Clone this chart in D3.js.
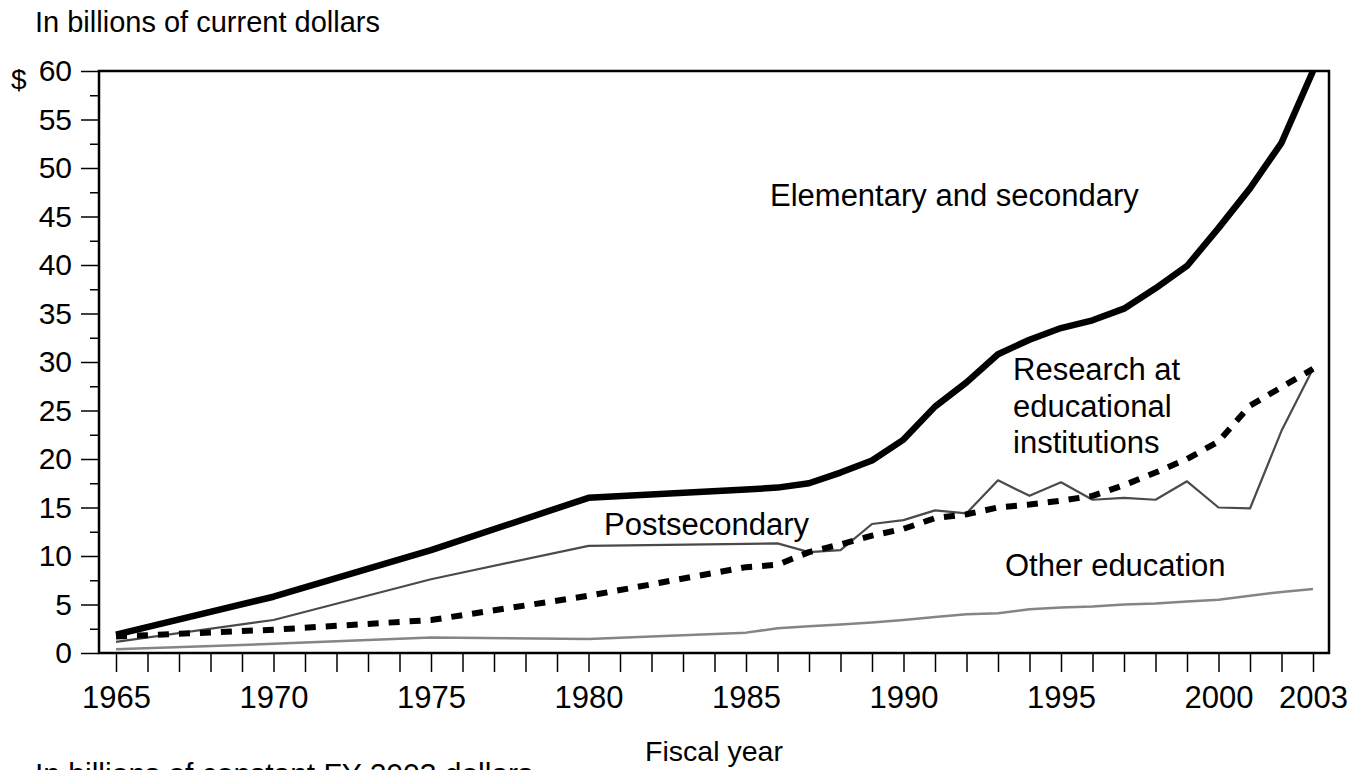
<!DOCTYPE html>
<html>
<head>
<meta charset="utf-8">
<script src="https://cdn.jsdelivr.net/npm/d3@7"></script>
<style>
    body { margin: 0; background: #fff; }
    svg { display: block; font-family: "Liberation Sans", Arial, sans-serif; }
</style>
</head>
<body>
<div id="chart"></div>
<script>

// Chart data
// --------------------------------------------------------------------------------------------

// Fiscal years (5 year steps until 1985, then yearly)
const years = [1965, 1970, 1975, 1980, 1985, 1986, 1987, 1988, 1989, 1990, 1991, 1992,
               1993, 1994, 1995, 1996, 1997, 1998, 1999, 2000, 2001, 2002, 2003]

// Billions of current dollars
const elementary    = [1.9, 5.8, 10.6, 16.0, 16.85, 17.05, 17.5, 18.6, 19.85, 22.0, 25.4, 27.9,
                       30.8, 32.3, 33.5, 34.3, 35.5, 37.6, 39.9, 43.8, 47.9, 52.6, 60.0]
const postsecondary = [1.15, 3.4, 7.6, 11.05, 11.25, 11.3, 10.4, 10.6, 13.3, 13.7, 14.7, 14.4,
                       17.8, 16.2, 17.6, 15.8, 16.0, 15.8, 17.7, 15.0, 14.9, 22.9, 29.3]
const research      = [1.7, 2.4, 3.4, 5.9, 8.85, 9.1, 10.4, 11.2, 12.1, 12.8, 13.9, 14.3,
                       15.0, 15.3, 15.7, 16.2, 17.3, 18.6, 20.0, 21.8, 25.5, 27.4, 29.3]
const otherEd       = [0.38, 0.95, 1.6, 1.45, 2.1, 2.55, 2.75, 2.95, 3.15, 3.4, 3.7, 4.0,
                       4.1, 4.5, 4.7, 4.8, 5.0, 5.1, 5.3, 5.5, 5.9, 6.3, 6.6]

// Axis ticks
const yearTicks  = d3.range(1965, 2004)
const yearLabels = [1965, 1970, 1975, 1980, 1985, 1990, 1995, 2000, 2003]
const yMajor     = d3.range(0, 61, 5)
const yMinor     = d3.range(2.5, 60, 5)


function drawChart(container) {

    // Set up svg and scales
    // -------------------------------------------------------------------------
    const width = 1354, height = 770
    const box = {left: 99, right: 1329, top: 71, bottom: 653}

    let svg = d3.select(container).append("svg")
        .attr("width", width)
        .attr("height", height)

    let x = d3.scaleLinear()
        .domain([1965, 2003])
        .range([box.left + 17, box.right - 16])

    let y = d3.scaleLinear()
        .domain([0, 60])
        .range([box.bottom, box.top])

    // Axes
    // -------------------------------------------------------------------------

    // Minor ticks on y
    svg.append("g")
        .attr("transform", "translate(" + box.left + ",0)")
        .call(d3.axisLeft(y).tickValues(yMinor).tickSize(9).tickFormat(""))
        .call(g => g.select(".domain").remove())
        .selectAll("line").attr("stroke", "#000").attr("stroke-width", 1.5)

    // Major ticks and labels on y
    let yAxis = svg.append("g")
        .attr("transform", "translate(" + box.left + ",0)")
        .call(d3.axisLeft(y).tickValues(yMajor).tickSize(18).tickPadding(9).tickFormat(d3.format("d")))
    yAxis.select(".domain").remove()
    yAxis.selectAll("line").attr("stroke", "#000").attr("stroke-width", 1.5)
    yAxis.selectAll("text")
        .attr("font-family", "Liberation Sans, Arial, sans-serif")
        .attr("font-size", 30)
        .attr("fill", "#000")

    // Year ticks on x, labels only on selected years
    let xAxis = svg.append("g")
        .attr("transform", "translate(0," + box.bottom + ")")
        .call(d3.axisBottom(x).tickValues(yearTicks).tickSize(19).tickPadding(14)
            .tickFormat(d => yearLabels.includes(d) ? d : ""))
    xAxis.select(".domain").remove()
    xAxis.selectAll("line").attr("stroke", "#000").attr("stroke-width", 1.5)
    xAxis.selectAll("text")
        .attr("font-family", "Liberation Sans, Arial, sans-serif")
        .attr("font-size", 31)
        .attr("fill", "#000")

    // Frame around the plot
    svg.append("rect")
        .attr("x", box.left)
        .attr("y", box.top)
        .attr("width", box.right - box.left)
        .attr("height", box.bottom - box.top)
        .style("fill", "none")
        .style("stroke", "#000")
        .style("stroke-width", 2.5)

    // Series lines
    // -------------------------------------------------------------------------
    let line = d3.line()
        .x(d => x(d[0]))
        .y(d => y(d[1]))

    const series = [
        {values: otherEd,       colour: "#858585", width: 2.5, dash: null},
        {values: postsecondary, colour: "#4a4a4a", width: 2.2, dash: null},
        {values: research,      colour: "#000",    width: 6,   dash: "11,10"},
        {values: elementary,    colour: "#000",    width: 6.5, dash: null}
    ]

    let gLines = svg.append("g").attr("id", "lines")
    gLines.selectAll("path")
        .data(series)
        .join("path")
            .attr("d", s => line(years.map((yr, i) => [yr, s.values[i]])))
            .style("fill", "none")
            .style("stroke", s => s.colour)
            .style("stroke-width", s => s.width)
            .style("stroke-dasharray", s => s.dash)
            .style("stroke-linejoin", "round")

    // Texts
    // -------------------------------------------------------------------------
    const labels = [
        {text: "In billions of current dollars", x: 35, y: 32, size: 29},
        {text: "$", x: 11, y: 89, size: 28},
        {text: "Elementary and secondary", x: 770, y: 206, size: 31},
        {text: "Research at", x: 1013, y: 380, size: 31},
        {text: "educational", x: 1013, y: 417, size: 31},
        {text: "institutions", x: 1013, y: 453, size: 31},
        {text: "Postsecondary", x: 604, y: 535, size: 31},
        {text: "Other education", x: 1005, y: 576, size: 31},
        {text: "Fiscal year", x: 714, y: 761, size: 28.5, anchor: "middle"},
        {text: "In billions of constant FY 2003 dollars", x: 35, y: 784, size: 30}
    ]

    svg.append("g").attr("id", "labels")
        .selectAll("text")
        .data(labels)
        .join("text")
            .attr("x", d => d.x)
            .attr("y", d => d.y)
            .attr("font-size", d => d.size)
            .attr("text-anchor", d => d.anchor || "start")
            .style("fill", "#000")
            .text(d => d.text)
}

drawChart("#chart")
</script>
</body>
</html>
